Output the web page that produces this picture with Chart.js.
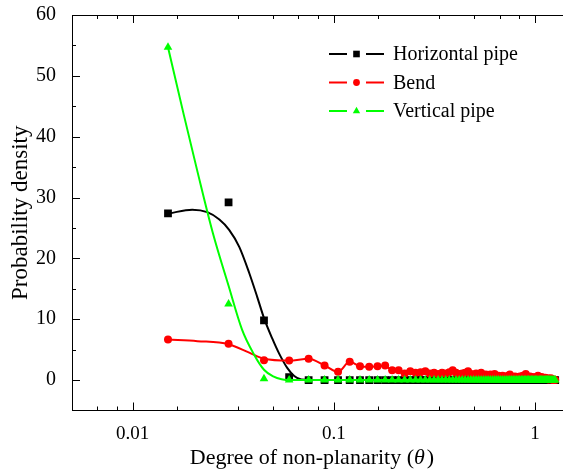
<!DOCTYPE html>
<html>
<head>
<meta charset="utf-8">
<script src="https://cdn.jsdelivr.net/npm/chart.js@4.4.1/dist/chart.umd.min.js"></script>
<style>
  html, body { margin: 0; padding: 0; background: #fff; overflow: hidden; }
  #wrap { width: 563px; height: 471px; overflow: hidden; }
  #chart { display: block; }
</style>
</head>
<body>
<div id="wrap"><canvas id="chart"></canvas></div>
<script>
// bin centres of the non-planarity histogram
const thetaBins = [0.015,0.03,0.045,0.06,0.075,0.09,0.105,0.12,0.135,0.15,0.165,0.18,0.195,0.21,0.225,0.24,0.255,0.27,0.285,0.3,
  0.315,0.33,0.345,0.36,0.375,0.39,0.405,0.42,0.435,0.45,0.465,0.48,0.495,0.51,0.525,0.54,0.555,0.57,0.585,0.6,
  0.615,0.63,0.645,0.66,0.675,0.69,0.705,0.72,0.735,0.75,0.765,0.78,0.795,0.81,0.825,0.84,0.855,0.87,0.885,0.9,
  0.915,0.93,0.945,0.96,0.975,0.99,1.005,1.02,1.035,1.05,1.065,1.08,1.095,1.11,1.125,1.14,1.155,1.17,1.185,1.2,
  1.215,1.23,1.245,1.26];

const horizontalPts = [27.4,29.2,9.8,0.5,0,0,0,0,0,0,0,0,0,0,0,0,0,0,0,0,
  0,0,0,0,0,0,0,0,0,0,0,0,0,0,0,0,0,0,0,0,
  0,0,0,0,0,0,0,0,0,0,0,0,0,0,0,0,0,0,0,0,
  0,0,0,0,0,0,0,0,0,0,0,0,0,0,0,0,0,0,0,0,
  0,0,0,0];
const bendPts = [6.66,5.95,3.26,3.2,3.5,2.4,1.35,3.0,2.27,2.17,2.27,2.38,1.6,1.6,1.07,
  1.45,1.2,1.3,1.45,1.1,1.2,1.0,1.2,1.1,1.3,1.6,1.2,1.0,1.1,1.2,1.45,1.0,0.9,1.1,0.9,
  1.2,0.8,0.9,0.7,0.9,0.8,1.0,0.6,0.7,0.5,0.7,0.6,0.5,0.7,0.9,0.5,0.4,0.6,0.5,0.4,
  0.6,0.5,0.7,0.6,1.0,0.5,0.4,0.6,0.3,0.5,0.4,0.3,0.5,0.7,0.4,0.3,0.5,0.2,0.3,0.4,
  0.2,0.3,0.1,0.2,0.3,0.1,0.0,0.1,0.0];
const verticalPts = [54.7,12.5,0.2,0,0,0,0,0,0,0,0,0,0,0,0,0,0,0,0,0,
  0,0,0,0,0,0,0,0,0,0,0,0,0,0,0,0,0,0,0,0,
  0,0,0,0,0,0,0,0,0,0,0,0,0,0,0,0,0,0,0,0,
  0,0,0,0,0,0,0,0,0,0,0,0,0,0,0,0,0,0,0,0,
  0,0,0,0];

// fitted curves
const horizontalFitX = [0.0152,0.0198,0.0235,0.027,0.0302,0.0339,0.038,0.0417,0.0451,0.0495,0.0536,0.0587,0.0636,0.069,0.0773,0.1,0.3,1.26];
const horizontalFitY = [27.4,28.0,27.6,26.4,24.7,21.9,17.6,13.6,10.1,6.8,4.3,2.0,0.66,0.08,0,0,0,0];
const verticalFitX = [0.015,0.018,0.021,0.025,0.03,0.035,0.04,0.045,0.05,0.055,0.065,0.1,0.3,1.26];
const verticalFitY = [54.7,43.5,34.3,24.3,15.5,8.3,4.3,1.7,0.6,0.15,0,0,0,0];
const bendFitHeadX = [0.015,0.021,0.03,0.038,0.045];
const bendFitHeadY = [6.66,6.4,5.9,4.5,3.5];

const xMajorTicks = [0.01, 0.1, 1];
const xMinorTicks = [0.00667,0.00833,0.01667,0.03333,0.05,0.06667,0.08333,0.1667,0.3333,0.5,0.6667,0.8333];
const yMajorTicks = [0, 10, 20, 30, 40, 50, 60];
const yMinorTicks = [5, 15, 25, 35, 45, 55];

const seriesNames = ['Horizontal pipe', 'Bend', 'Vertical pipe'];
const seriesColors = ['#000000', '#ff0000', '#00ff00'];
const xTitleParts = ['Degree of non-planarity (', 'θ', ')'];

const pairs = (xs, ys) => xs.map((x, i) => ({ x: x, y: ys[i] }));
const bendFit = pairs(bendFitHeadX, bendFitHeadY).concat(pairs(thetaBins.slice(3), bendPts.slice(3)));

const SERIF = "'Liberation Serif', 'Times New Roman', serif";

function pointSet(idx, ys, style, radius, order) {
  return {
    label: seriesNames[idx], data: pairs(thetaBins, ys), showLine: false,
    pointStyle: style, pointRadius: radius, pointHoverRadius: radius,
    backgroundColor: seriesColors[idx], borderColor: seriesColors[idx], borderWidth: 0,
    order: order, legendStyle: style, legendRadius: radius
  };
}
function fitSet(idx, data, order) {
  return {
    label: seriesNames[idx] + ' fit', data: data, showLine: true, pointRadius: 0,
    borderColor: seriesColors[idx], borderWidth: 2, cubicInterpolationMode: 'monotone',
    fill: false, order: order, isFit: true
  };
}

// inward ticks, top frame line, x title with italic theta and the line+marker legend
const framePlugin = {
  id: 'frame',
  afterDraw(chart) {
    const ctx = chart.ctx, a = chart.chartArea;
    const xs = chart.scales.x, ys = chart.scales.y;
    ctx.save();
    ctx.strokeStyle = '#000';
    ctx.lineWidth = 1;
    ctx.beginPath();
    ctx.moveTo(a.left, Math.round(a.top) + 0.5);
    ctx.lineTo(a.right, Math.round(a.top) + 0.5);
    const xt = (v, len) => {
      const px = Math.round(xs.getPixelForValue(v)) + 0.5;
      ctx.moveTo(px, a.bottom); ctx.lineTo(px, a.bottom - len);
      ctx.moveTo(px, a.top); ctx.lineTo(px, a.top + len);
    };
    const yt = (v, len) => {
      const py = Math.round(ys.getPixelForValue(v)) + 0.5;
      ctx.moveTo(a.left, py); ctx.lineTo(a.left + len, py);
    };
    xMajorTicks.forEach(v => xt(v, 8));
    xMinorTicks.forEach(v => xt(v, 4));
    yMajorTicks.forEach(v => yt(v, 8));
    yMinorTicks.forEach(v => yt(v, 4));
    ctx.stroke();

    // x axis title
    ctx.fillStyle = '#000';
    ctx.textBaseline = 'middle';
    ctx.textAlign = 'left';
    const fonts = ['22px ' + SERIF, 'italic 22px ' + SERIF, '22px ' + SERIF];
    const widths = xTitleParts.map((t, i) => { ctx.font = fonts[i]; return ctx.measureText(t).width; });
    let tx = 312 - (widths[0] + widths[1] + widths[2] + 2) / 2;
    xTitleParts.forEach((t, i) => {
      ctx.font = fonts[i];
      ctx.fillText(t, tx, 458);
      tx += widths[i] + (i === 1 ? 2 : 0);
    });

    // legend
    const lx = 329, ly = 54, gap = 28.5;
    chart.data.datasets.filter(d => !d.isFit).forEach((d, i) => {
      const y = ly + i * gap;
      ctx.strokeStyle = d.borderColor;
      ctx.lineWidth = 2;
      ctx.beginPath();
      ctx.moveTo(lx, y); ctx.lineTo(lx + 18, y);
      ctx.moveTo(lx + 37, y); ctx.lineTo(lx + 55, y);
      ctx.stroke();
      ctx.fillStyle = d.backgroundColor;
      Chart.helpers.drawPoint(ctx, { pointStyle: d.legendStyle, radius: d.legendRadius * 0.85, borderWidth: 0 }, lx + 27.5, y);
      ctx.fillStyle = '#000';
      ctx.font = '20px ' + SERIF;
      ctx.fillText(d.label, lx + 64, y + 1);
    });
    ctx.restore();
  }
};

new Chart(document.getElementById('chart'), {
  type: 'scatter',
  data: {
    datasets: [
      pointSet(0, horizontalPts, 'rect', 5.5, 6),
      pointSet(1, bendPts, 'circle', 4, 4),
      pointSet(2, verticalPts, 'triangle', 5, 2),
      fitSet(0, pairs(horizontalFitX, horizontalFitY), 5),
      fitSet(1, bendFit, 3),
      fitSet(2, pairs(verticalFitX, verticalFitY), 1)
    ]
  },
  options: {
    responsive: true,
    maintainAspectRatio: false,
    animation: false,
    devicePixelRatio: 1,
    layout: { autoPadding: false, padding: { top: 15, right: 0, left: 0, bottom: 0 } },
    plugins: { legend: { display: false }, tooltip: { enabled: false } },
    scales: {
      x: {
        type: 'logarithmic', position: 'bottom', min: 0.005, max: 1.378,
        afterBuildTicks: s => { s.ticks = xMajorTicks.map(v => ({ value: v })); },
        afterFit: s => { s.height = 60.5; s.paddingLeft = 0; s.paddingRight = 0; },
        grid: { display: false },
        border: { display: true, color: '#000', width: 1 },
        ticks: {
          autoSkip: false, maxRotation: 0, padding: 4, color: '#000',
          font: { family: SERIF, size: 19 },
          callback: v => String(v)
        },
        title: { display: false }
      },
      y: {
        type: 'linear', position: 'left', min: -5, max: 60,
        afterBuildTicks: s => { s.ticks = yMajorTicks.map(v => ({ value: v })); },
        afterFit: s => { s.width = 72; s.paddingTop = 0; s.paddingBottom = 0; },
        grid: { display: false },
        border: { display: true, color: '#000', width: 1 },
        ticks: {
          padding: 8, color: '#000',
          font: { family: SERIF, size: 20 },
          callback: v => String(v)
        },
        title: {
          display: true, text: 'Probability density', color: '#000',
          font: { family: SERIF, size: 23 }, padding: { top: 7, bottom: 0 }
        }
      }
    }
  },
  plugins: [framePlugin]
});
</script>
</body>
</html>
